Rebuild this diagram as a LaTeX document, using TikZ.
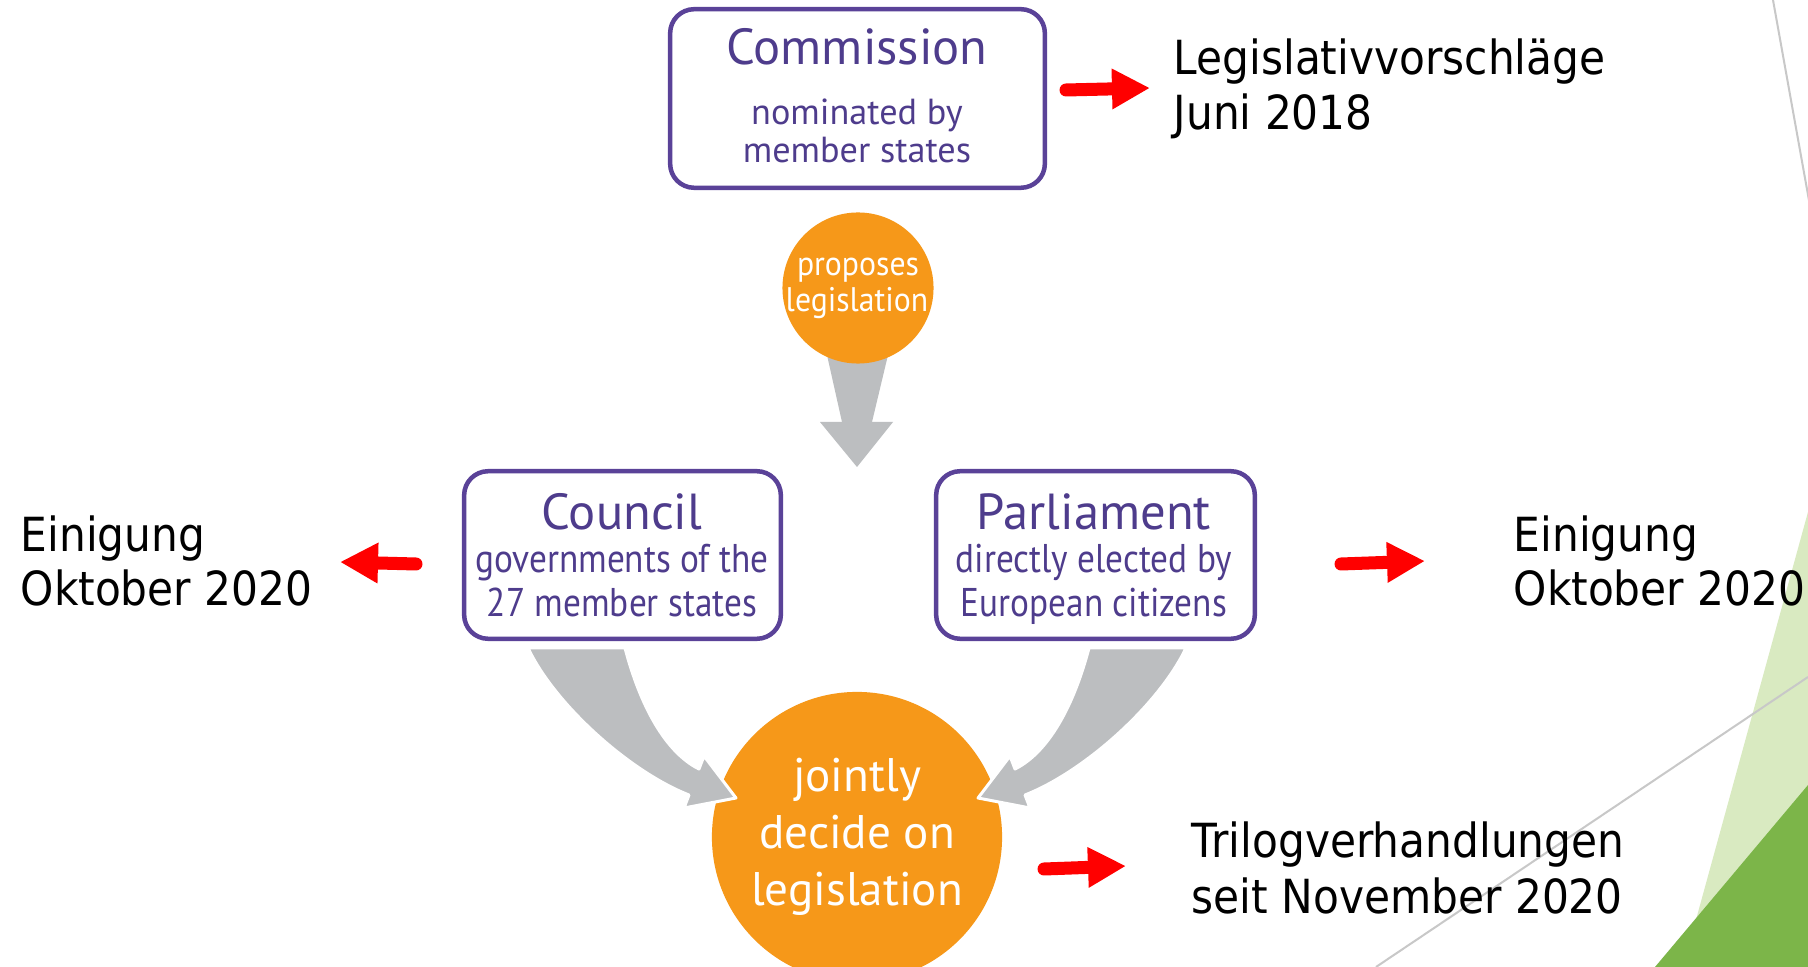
\documentclass[tikz,border=0pt]{standalone}
\usepackage{fontspec}
\usetikzlibrary{arrows.meta}
\setmainfont{PT Sans}
\newfontfamily\labf[FakeStretch=0.9]{DejaVu Sans}
\newfontfamily\boxf{PT Sans}
\newfontfamily\boxn[FakeStretch=0.88]{PT Sans}
\newfontfamily\boxp[FakeStretch=0.93]{PT Sans}
\newcommand\fsz[1]{\fontsize{#1pt}{#1pt}\selectfont}
\definecolor{euPurple}{RGB}{90,66,152}
\definecolor{euText}{RGB}{78,60,140}
\definecolor{euOrange}{RGB}{246,152,25}
\definecolor{euGrey}{RGB}{188,190,192}
\definecolor{lgreen}{RGB}{217,234,193}
\definecolor{dgreen}{RGB}{124,181,73}
\definecolor{lineGrey}{RGB}{200,200,200}
\tikzset{
  ebox/.style={draw=euPurple, line width=0.045cm, rounded corners=0.24cm, fill=white, inner sep=0pt},
  orb/.style={circle, fill=euOrange, inner sep=0pt},
  ttl/.style={anchor=base, text=euText, inner sep=0pt, font=\boxf\fsz{14.4}},
  bodyA/.style={anchor=base, text=euText, inner sep=0pt, font=\boxf\fsz{10.3}},
  bodyB/.style={anchor=base, text=euText, inner sep=0pt, font=\boxn\fsz{11.4}},
  orbtxt/.style={anchor=base, text=white, inner sep=0pt},
  lab/.style={anchor=base west, text=black, inner sep=0pt, font=\labf\fsz{13.37}},
  redarrow/.style={draw=red, line width=0.13cm, line cap=round, -{Triangle[length=0.38cm, width=0.38cm]}},
  fatarrow/.style={fill=euGrey},
  fatarrowW/.style={fill=euGrey, draw=white, line width=0.03cm, line join=round}
}
\begin{document}
\begin{tikzpicture}[x=0.01cm, y=-0.01cm]
\useasboundingbox[fill=white] (0,0) rectangle (1808,967);

% decorative background
\fill[lgreen] (1808,512) -- (1683,967) -- (1808,967) -- cycle;
\fill[dgreen] (1808,785) -- (1655,967) -- (1808,967) -- cycle;
\draw[lineGrey, line width=0.02cm] (1773,0) -- (1810,206);
\draw[lineGrey, line width=0.02cm] (1376,967) -- (1808,677);

% down arrow from proposal circle
\fill[fatarrow] (827,355) -- (888,355) -- (872,422) -- (893,422) -- (857,467) -- (820,422) -- (842,422) -- cycle;

% nodes
\node[orb, minimum size=1.51cm] (prop) at (858,288) {};
\node[ebox, minimum width=3.745cm, minimum height=1.785cm] (comm) at (857.5,98.5) {};
\node[ebox, minimum width=3.165cm, minimum height=1.675cm] (coun) at (622.5,555) {};
\node[ebox, minimum width=3.185cm, minimum height=1.675cm] (parl) at (1095.5,555) {};
\node[orb, minimum size=2.9cm] (joint) at (857,837) {};

% curved arrows into the joint decision
\fill[fatarrowW] (528,648) .. controls (555,705) and (630,772) .. (689,795)
  -- (684,808) -- (736,798) -- (704,756) -- (699,769)
  .. controls (665,752) and (640,705) .. (625,648) -- cycle;
\fill[fatarrowW] (1186,648) .. controls (1159,705) and (1084,772) .. (1025,795)
  -- (1030,808) -- (978,798) -- (1010,756) -- (1015,769)
  .. controls (1049,752) and (1074,705) .. (1089,648) -- cycle;

% box texts
\node[ttl] (commT) at (857,65) {Commission};
\node[bodyA] (commB1) at (857,125) {nominated by};
\node[bodyA] (commB2) at (857,163) {member states};
\node[ttl] (counT) at (622,530) {Council};
\node[bodyB] (counB1) at (622,573) {governments of the};
\node[bodyB] (counB2) at (622,617) {27 member states};
\node[ttl] (parlT) at (1094,530) {Parliament};
\node[bodyB] (parlB1) at (1094,573) {directly elected by};
\node[bodyB] (parlB2) at (1094,617) {European citizens};

% circle texts
\node[orbtxt, font=\boxp\fsz{9.7}] (propT1) at (858,276) {proposes};
\node[orbtxt, font=\boxp\fsz{9.7}] (propT2) at (857,312) {legislation};
\node[orbtxt, font=\boxf\fsz{13.4}] (jointT1) at (857,792) {jointly};
\node[orbtxt, font=\boxf\fsz{13.4}] (jointT2) at (857,849) {decide on};
\node[orbtxt, font=\boxf\fsz{13.4}] (jointT3) at (857,906) {legislation};

% German annotations
\node[lab] (leg1) at (1173,75) {Legislativvorschläge};
\node[lab] (leg2) at (1173,130) {Juni 2018};
\node[lab] (einL1) at (20,552) {Einigung};
\node[lab] (einL2) at (20,606) {Oktober 2020};
\node[lab] (einR1) at (1513,552) {Einigung};
\node[lab] (einR2) at (1513,606) {Oktober 2020};
\node[lab] (tri1) at (1191,858) {Trilogverhandlungen};
\node[lab] (tri2) at (1191,914) {seit November 2020};

% red arrows
\coordinate (r1a) at (1066,90);
\coordinate (r1b) at (1150,88);
\coordinate (r2a) at (416,564);
\coordinate (r2b) at (340,562);
\coordinate (r3a) at (1341,564);
\coordinate (r3b) at (1425,561);
\coordinate (r4a) at (1044,869);
\coordinate (r4b) at (1126,866);
\draw[redarrow] (r1a) -- (r1b);
\draw[redarrow] (r2a) -- (r2b);
\draw[redarrow] (r3a) -- (r3b);
\draw[redarrow] (r4a) -- (r4b);
\end{tikzpicture}
\end{document}
